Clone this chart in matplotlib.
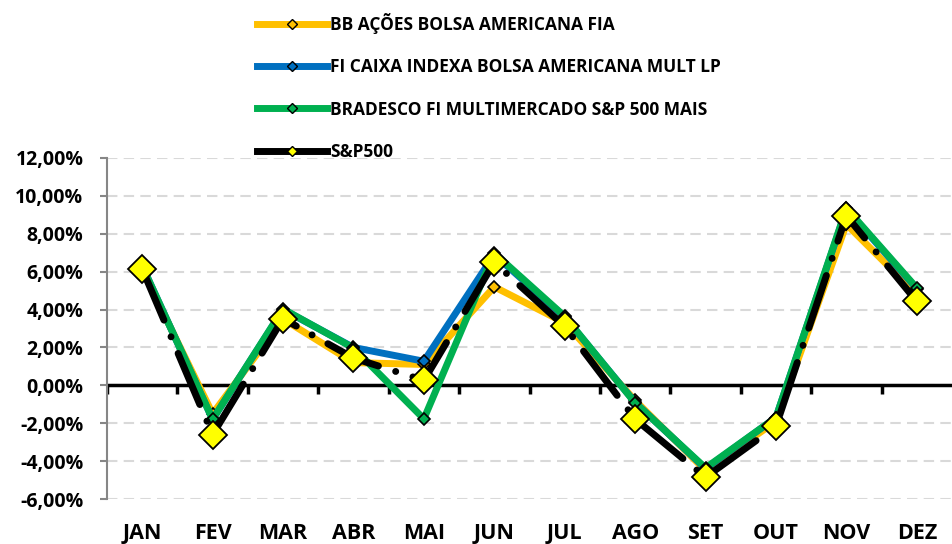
import matplotlib.pyplot as plt
from matplotlib.lines import Line2D

# retornos mensais (%)
meses = ["JAN", "FEV", "MAR", "ABR", "MAI", "JUN",
         "JUL", "AGO", "SET", "OUT", "NOV", "DEZ"]
bb_acoes = [6.1, -1.5, 3.5, 1.2, 1.1, 5.2, 3.3, -0.8, -4.5, -1.9, 8.5, 4.8]
caixa = [6.3, -1.8, 4.0, 2.0, 1.27, 6.9, 3.6, -0.9, -4.4, -1.7, 9.3, 5.1]
bradesco = [6.3, -1.8, 4.03, 1.97, -1.77, 6.98, 3.64, -0.93, -4.36, -1.7, 9.35, 5.14]
sp500 = [6.14, -2.6, 3.52, 1.44, 0.26, 6.49, 3.11, -1.78, -4.85, -2.16, 8.95, 4.43]

nomes = ["BB AÇÕES BOLSA AMERICANA FIA",
         "FI CAIXA INDEXA BOLSA AMERICANA MULT LP",
         "BRADESCO FI MULTIMERCADO S&P 500 MAIS",
         "S&P500"]
cores = ["#FFC000", "#0070C0", "#00B050", "black"]

plt.rcParams['font.family'] = ['Open Sans', 'DejaVu Sans']
plt.rcParams['font.weight'] = 'bold'

fig = plt.figure(figsize=(9.52, 5.44), dpi=100)
ax = fig.add_axes([0.1124, 0.0827, 0.8876, 0.6269])

x = list(range(len(meses)))
for serie, cor in zip([bb_acoes, caixa, bradesco], cores[:3]):
    ax.plot(x, serie, color=cor, lw=5, marker='D', markersize=6,
            markerfacecolor=cor, markeredgecolor='black',
            markeredgewidth=1.2, zorder=3)

# S&P500: traço-ponto grosso com losangos amarelos grandes
ax.plot(x, sp500, color='black', lw=5, linestyle=(0, (8, 2.6, 0.01, 2.6)),
        dash_capstyle='round', zorder=4)
ax.plot(x, sp500, linestyle='none', marker='D', markersize=14,
        markerfacecolor='#FFFF00', markeredgecolor='black',
        markeredgewidth=1.3, zorder=5)

ax.set_xlim(-0.5, len(meses) - 0.5)
ax.set_ylim(-6, 12)
ax.set_yticks(range(-6, 13, 2))
ax.set_yticklabels([f"{v:.2f}%".replace(".", ",") for v in range(-6, 13, 2)],
                   fontsize=14)
ax.set_xticks(x)
ax.set_xticklabels(meses, fontsize=15.5)
ax.tick_params(axis='x', length=0, pad=17)
ax.tick_params(axis='y', length=5, width=1.5, color='#868686', pad=12)

ax.grid(axis='y', color='#D9D9D9', lw=1.5, linestyle=(0, (5, 3)))
ax.set_axisbelow(True)
for lado in ['top', 'right', 'bottom']:
    ax.spines[lado].set_visible(False)
ax.spines['left'].set_color('#868686')
ax.spines['left'].set_linewidth(1.5)

ax.axhline(0, color='black', lw=2.5, zorder=2)
ax.vlines([i - 0.5 for i in x], -0.45, 0, color='black', lw=2.5, zorder=2)

handles = [Line2D([], [], color=c, lw=5, marker='D', markersize=5,
                  markerfacecolor=c, markeredgecolor='black')
           for c in cores[:3]]
handles.append(Line2D([], [], color='black', lw=5, marker='D', markersize=5,
                      markerfacecolor='#FFFF00', markeredgecolor='black'))
fig.legend(handles, nomes, loc='upper left', bbox_to_anchor=(0.254, 1.005),
           frameon=False, fontsize=12.5, handlelength=4.0, handletextpad=0.2,
           labelspacing=1.4)

fig.savefig("out.png", dpi=100)
